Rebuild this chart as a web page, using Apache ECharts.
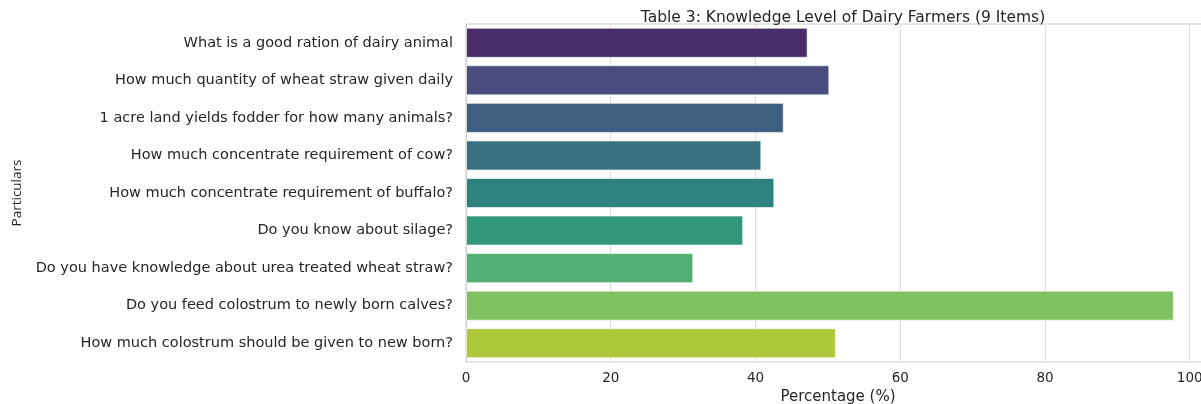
<!DOCTYPE html>
<html>
<head>
<meta charset="utf-8">
<script src="https://cdn.jsdelivr.net/npm/echarts@6/dist/echarts.min.js"></script>
<style>
html,body{margin:0;padding:0;background:#fff;}
#chart{width:1201px;height:404px;}
</style>
</head>
<body>
<div id="chart"></div>
<script>
const categories = [
  "What is a good ration of dairy animal",
  "How much quantity of wheat straw given daily",
  "1 acre land yields fodder for how many animals?",
  "How much concentrate requirement of cow?",
  "How much concentrate requirement of buffalo?",
  "Do you know about silage?",
  "Do you have knowledge about urea treated wheat straw?",
  "Do you feed colostrum to newly born calves?",
  "How much colostrum should be given to new born?"
];
const percentages = [47.2, 50.2, 43.9, 40.8, 42.6, 38.3, 31.4, 97.8, 51.1];
const barColors = ["#492E6B", "#4A4C7E", "#406082", "#377182", "#2F837F", "#33977C", "#53B074", "#80C161", "#AEC83D"];
const xTicks = [0, 20, 40, 60, 80, 100];

const chart = echarts.init(document.getElementById('chart'), null, {renderer: 'canvas'});
const font = 'DejaVu Sans';
chart.setOption({
  animation: false,
  backgroundColor: '#ffffff',
  title: {
    text: 'Table 3: Knowledge Level of Dairy Farmers (9 Items)',
    left: 838, top: 5, textAlign: 'center',
    textStyle: {fontFamily: font, fontSize: 15.5, fontWeight: 'normal', color: '#262626'}
  },
  grid: {left: 466, top: 24, width: 744, height: 338, outerBoundsMode: 'none',
    show: true, borderColor: '#cccccc', borderWidth: 1},
  xAxis: {
    type: 'value', min: 0, max: 102.8, interval: 20,
    name: 'Percentage (%)', nameLocation: 'middle', nameGap: 25,
    nameTextStyle: {fontFamily: font, fontSize: 15, color: '#262626'},
    axisLine: {show: false}, axisTick: {show: false},
    axisLabel: {fontFamily: font, fontSize: 13.5, color: '#262626', margin: 9,
      formatter: v => xTicks.includes(Math.round(v * 1000) / 1000) ? String(v) : ''},
    splitLine: {show: true, lineStyle: {color: '#dddddd', width: 1}}
  },
  yAxis: {
    type: 'category', data: categories, inverse: true,
    name: 'Particulars', nameLocation: 'middle', nameGap: 442, nameRotate: 90,
    nameTextStyle: {fontFamily: 'Open Sans', fontSize: 13.5, color: '#262626'},
    axisLine: {show: true, lineStyle: {color: '#cccccc'}}, axisTick: {show: false},
    axisLabel: {fontFamily: font, fontSize: 14.5, color: '#262626', margin: 13},
    splitLine: {show: false}
  },
  series: [{
    type: 'bar',
    data: percentages.map((v, i) => ({value: v, itemStyle: {color: barColors[i]}})),
    barCategoryGap: '20%',
    itemStyle: {borderColor: 'rgba(255,255,255,0.6)', borderWidth: 1}
  }]
});
</script>
</body>
</html>
